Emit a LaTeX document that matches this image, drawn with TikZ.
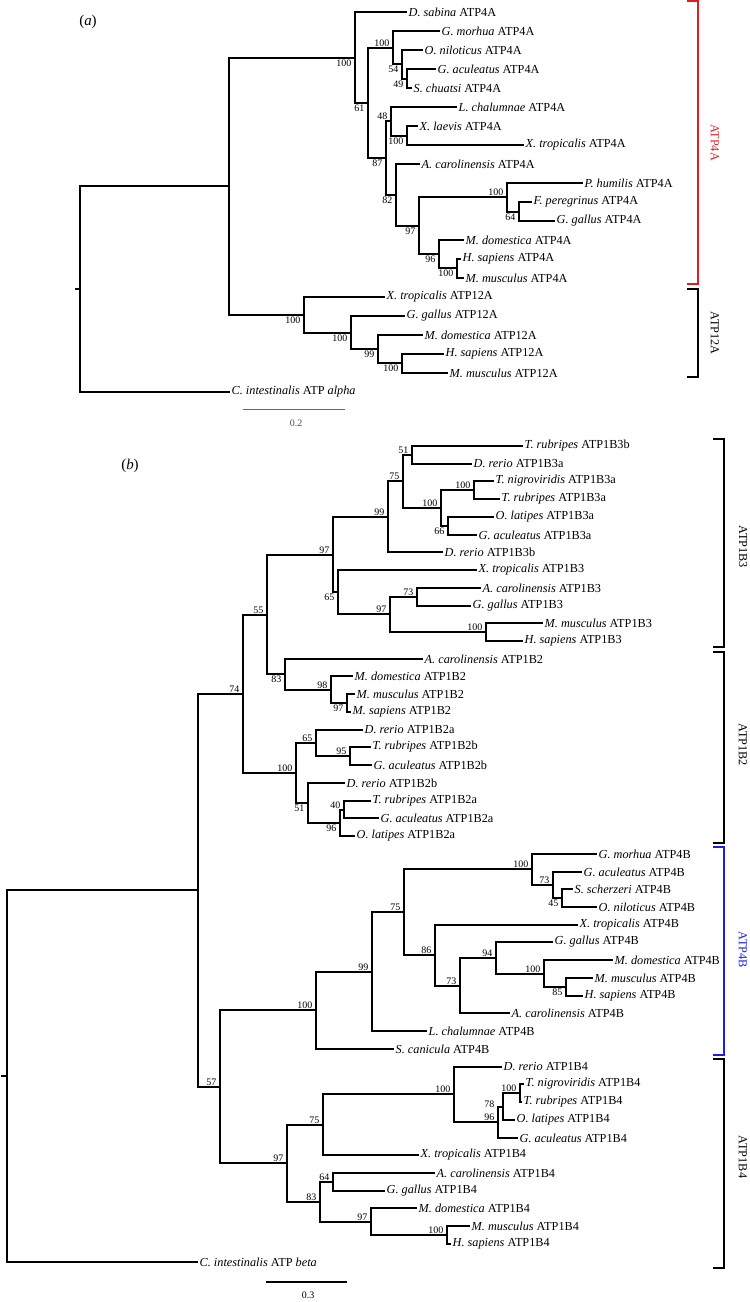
\documentclass[tikz,border=0pt]{standalone}
\usepackage{fontspec}
\setmainfont{Liberation Serif}
\definecolor{cladered}{RGB}{222,30,36}
\definecolor{cladeblue}{RGB}{30,30,225}
\newcommand{\leaffont}{\fontsize{12.3}{14}\selectfont}
\newcommand{\bsfont}{\fontsize{10}{11}\selectfont}

\begin{document}
\begin{tikzpicture}[
        x=1bp, y=-1bp,
        branch/.style={line width=2bp},
        leaf/.style={anchor=west, inner sep=1.5pt, font=\leaffont},
        bsup/.style={anchor=south east, inner sep=0.5pt, xshift=-3pt, yshift=1pt, font=\bsfont},
        bsdn/.style={anchor=north east, inner sep=0.5pt, xshift=-3pt, yshift=-1.5pt, font=\bsfont},
        bracket/.style={line width=2bp},
        cladelabel/.style={rotate=-90, font=\leaffont, inner sep=0pt},
        panel/.style={font=\fontsize{15}{17}\selectfont, inner sep=0pt}
    ]
        \useasboundingbox (0,0) rectangle (749,1302);

        % ---------------- (a) ----------------
        \node[panel] (lbla) at (88,22) {(\textit{a})};

        \node[leaf] (aDsab) at (407,12) {\textit{D. sabina} ATP4A};
        \node[leaf] (aGmor) at (440,31) {\textit{G. morhua} ATP4A};
        \node[leaf] (aOnil) at (423,50) {\textit{O. niloticus} ATP4A};
        \node[leaf] (aGacu) at (436,69) {\textit{G. aculeatus} ATP4A};
        \node[leaf] (aSchu) at (412,88) {\textit{S. chuatsi} ATP4A};
        \node[leaf] (aLcha) at (457,107) {\textit{L. chalumnae} ATP4A};
        \node[leaf] (aXlae) at (418,126) {\textit{X. laevis} ATP4A};
        \node[leaf] (aXtro) at (524,145) {\textit{X. tropicalis} ATP4A};
        \node[leaf] (aAcar) at (420,164) {\textit{A. carolinensis} ATP4A};
        \node[leaf] (aPhum) at (583,183) {\textit{P. humilis} ATP4A};
        \node[leaf] (aFper) at (532,202) {\textit{F. peregrinus} ATP4A};
        \node[leaf] (aGgal) at (555,221) {\textit{G. gallus} ATP4A};
        \node[leaf] (aMdom) at (464,240) {\textit{M. domestica} ATP4A};
        \node[leaf] (aHsap) at (461,259) {\textit{H. sapiens} ATP4A};
        \node[leaf] (aMmus) at (464,278) {\textit{M. musculus} ATP4A};
        \node[leaf] (aXtroB) at (385,297) {\textit{X. tropicalis} ATP12A};
        \node[leaf] (aGgalB) at (405,316) {\textit{G. gallus} ATP12A};
        \node[leaf] (aMdomB) at (423,335) {\textit{M. domestica} ATP12A};
        \node[leaf] (aHsapB) at (444,354) {\textit{H. sapiens} ATP12A};
        \node[leaf] (aMmusB) at (448,373) {\textit{M. musculus} ATP12A};
        \node[leaf] (aCint) at (230,392) {\textit{C. intestinalis} ATP \textit{alpha}};

        \coordinate (aStub) at (75,289);
        \coordinate (aRoot) at (80,289);
        \coordinate (aN1) at (229,186);
        \coordinate (aN100t) at (355,58);
        \coordinate (aN61) at (368,103);
        \coordinate (aN100a) at (393,48);
        \coordinate (aN54) at (402,64);
        \coordinate (aN49) at (407,79);
        \coordinate (aN87) at (386,158);
        \coordinate (aN48) at (391,121);
        \coordinate (aN100b) at (407,136);
        \coordinate (aN82) at (396,195);
        \coordinate (aN97) at (419,226);
        \coordinate (aN100c) at (507,197);
        \coordinate (aN64) at (519,212);
        \coordinate (aN96) at (439,254);
        \coordinate (aN100d) at (457,268);
        \coordinate (aN100e) at (304,315);
        \coordinate (aN100f) at (351,333);
        \coordinate (aN99) at (378,349);
        \coordinate (aN100g) at (402,363);

        \draw[branch] (aStub) -- (aRoot);
        \draw[branch] (aRoot) |- (aN1) (aRoot) |- (aCint.west);
        \draw[branch] (aN1) |- (aN100t) (aN1) |- (aN100e);
        \draw[branch] (aN100t) |- (aDsab.west) (aN100t) |- (aN61);
        \draw[branch] (aN61) |- (aN100a) (aN61) |- (aN87);
        \draw[branch] (aN100a) |- (aGmor.west) (aN100a) |- (aN54);
        \draw[branch] (aN54) |- (aOnil.west) (aN54) |- (aN49);
        \draw[branch] (aN49) |- (aGacu.west) (aN49) |- (aSchu.west);
        \draw[branch] (aN87) |- (aN48) (aN87) |- (aN82);
        \draw[branch] (aN48) |- (aLcha.west) (aN48) |- (aN100b);
        \draw[branch] (aN100b) |- (aXlae.west) (aN100b) |- (aXtro.west);
        \draw[branch] (aN82) |- (aAcar.west) (aN82) |- (aN97);
        \draw[branch] (aN97) |- (aN100c) (aN97) |- (aN96);
        \draw[branch] (aN100c) |- (aPhum.west) (aN100c) |- (aN64);
        \draw[branch] (aN64) |- (aFper.west) (aN64) |- (aGgal.west);
        \draw[branch] (aN96) |- (aMdom.west) (aN96) |- (aN100d);
        \draw[branch] (aN100d) |- (aHsap.west) (aN100d) |- (aMmus.west);
        \draw[branch] (aN100e) |- (aXtroB.west) (aN100e) |- (aN100f);
        \draw[branch] (aN100f) |- (aGgalB.west) (aN100f) |- (aN99);
        \draw[branch] (aN99) |- (aMdomB.west) (aN99) |- (aN100g);
        \draw[branch] (aN100g) |- (aHsapB.west) (aN100g) |- (aMmusB.west);

        \node[bsdn] (aV100t) at (aN100t) {100};
        \node[bsdn] (aV61) at (aN61) {61};
        \node[bsup] (aV100a) at (aN100a) {100};
        \node[bsdn] (aV54) at (aN54) {54};
        \node[bsdn] (aV49) at (aN49) {49};
        \node[bsdn] (aV87) at (aN87) {87};
        \node[bsup] (aV48) at (aN48) {48};
        \node[bsdn] (aV100b) at (aN100b) {100};
        \node[bsdn] (aV82) at (aN82) {82};
        \node[bsdn] (aV97) at (aN97) {97};
        \node[bsup] (aV100c) at (aN100c) {100};
        \node[bsdn] (aV64) at (aN64) {64};
        \node[bsdn] (aV96) at (aN96) {96};
        \node[bsdn] (aV100d) at (aN100d) {100};
        \node[bsdn] (aV100e) at (aN100e) {100};
        \node[bsdn] (aV100f) at (aN100f) {100};
        \node[bsdn] (aV99) at (aN99) {99};
        \node[bsdn] (aV100g) at (aN100g) {100};

        \draw[bracket, cladered] (687,1) -- (698,1) -- (698,284) -- (687,284);
        \node[cladelabel, cladered] (aLab4A) at (715,142.5) {ATP4A};
        \draw[bracket] (687,289) -- (698,289) -- (698,377) -- (687,377);
        \node[cladelabel] (aLab12A) at (715,333) {ATP12A};

        \coordinate (aBarL) at (243,409);
        \coordinate (aBarR) at (345,409);
        \draw[line width=1bp, black!60] (aBarL) -- (aBarR);
        \node[font=\bsfont, text=black!70] (aBarTxt) at (296,423) {0.2};

        % ---------------- (b) ----------------
        \node[panel] (lblb) at (130,466) {(\textit{b})};

        \node[leaf] (bTrub3b) at (523,446) {\textit{T. rubripes} ATP1B3b};
        \node[leaf] (bDrer3a) at (472,464) {\textit{D. rerio} ATP1B3a};
        \node[leaf] (bTnig3a) at (494,481) {\textit{T. nigroviridis} ATP1B3a};
        \node[leaf] (bTrub3a) at (500,499) {\textit{T. rubripes} ATP1B3a};
        \node[leaf] (bOlat3a) at (494,517) {\textit{O. latipes} ATP1B3a};
        \node[leaf] (bGacu3a) at (477,535) {\textit{G. aculeatus} ATP1B3a};
        \node[leaf] (bDrer3b) at (443,552) {\textit{D. rerio} ATP1B3b};
        \node[leaf] (bXtro3) at (477,570) {\textit{X. tropicalis} ATP1B3};
        \node[leaf] (bAcar3) at (481,588) {\textit{A. carolinensis} ATP1B3};
        \node[leaf] (bGgal3) at (471,606) {\textit{G. gallus} ATP1B3};
        \node[leaf] (bMmus3) at (543,623) {\textit{M. musculus} ATP1B3};
        \node[leaf] (bHsap3) at (523,641) {\textit{H. sapiens} ATP1B3};
        \node[leaf] (bAcar2) at (423,659) {\textit{A. carolinensis} ATP1B2};
        \node[leaf] (bMdom2) at (353,676) {\textit{M. domestica} ATP1B2};
        \node[leaf] (bMmus2) at (355,694) {\textit{M. musculus} ATP1B2};
        \node[leaf] (bMsap2) at (351,712) {\textit{M. sapiens} ATP1B2};
        \node[leaf] (bDrer2a) at (363,730) {\textit{D. rerio} ATP1B2a};
        \node[leaf] (bTrub2b) at (371,747) {\textit{T. rubripes} ATP1B2b};
        \node[leaf] (bGacu2b) at (372,765) {\textit{G. aculeatus} ATP1B2b};
        \node[leaf] (bDrer2b) at (345,783) {\textit{D. rerio} ATP1B2b};
        \node[leaf] (bTrub2a) at (371,801) {\textit{T. rubripes} ATP1B2a};
        \node[leaf] (bGacu2a) at (379,818) {\textit{G. aculeatus} ATP1B2a};
        \node[leaf] (bOlat2a) at (355,836) {\textit{O. latipes} ATP1B2a};
        \node[leaf] (bGmor4) at (597,854) {\textit{G. morhua} ATP4B};
        \node[leaf] (bGacu4) at (582,872) {\textit{G. aculeatus} ATP4B};
        \node[leaf] (bSsch4) at (573,889) {\textit{S. scherzeri} ATP4B};
        \node[leaf] (bOnil4) at (597,907) {\textit{O. niloticus} ATP4B};
        \node[leaf] (bXtro4) at (578,925) {\textit{X. tropicalis} ATP4B};
        \node[leaf] (bGgal4) at (553,942) {\textit{G. gallus} ATP4B};
        \node[leaf] (bMdom4) at (613,960) {\textit{M. domestica} ATP4B};
        \node[leaf] (bMmus4) at (593,978) {\textit{M. musculus} ATP4B};
        \node[leaf] (bHsap4) at (583,996) {\textit{H. sapiens} ATP4B};
        \node[leaf] (bAcar4) at (510,1013) {\textit{A. carolinensis} ATP4B};
        \node[leaf] (bLcha4) at (427,1031) {\textit{L. chalumnae} ATP4B};
        \node[leaf] (bScan4) at (394,1049) {\textit{S. canicula} ATP4B};
        \node[leaf] (bDrer1) at (502,1067) {\textit{D. rerio} ATP1B4};
        \node[leaf] (bTnig1) at (524,1084) {\textit{T. nigroviridis} ATP1B4};
        \node[leaf] (bTrub1) at (522,1102) {\textit{T. rubripes} ATP1B4};
        \node[leaf] (bOlat1) at (515,1120) {\textit{O. latipes} ATP1B4};
        \node[leaf] (bGacu1) at (518,1138) {\textit{G. aculeatus} ATP1B4};
        \node[leaf] (bXtro1) at (419,1155) {\textit{X. tropicalis} ATP1B4};
        \node[leaf] (bAcar1) at (435,1173) {\textit{A. carolinensis} ATP1B4};
        \node[leaf] (bGgal1) at (385,1191) {\textit{G. gallus} ATP1B4};
        \node[leaf] (bMdom1) at (417,1208) {\textit{M. domestica} ATP1B4};
        \node[leaf] (bMmus1) at (470,1226) {\textit{M. musculus} ATP1B4};
        \node[leaf] (bHsap1) at (451,1244) {\textit{H. sapiens} ATP1B4};
        \node[leaf] (bCint) at (198,1262) {\textit{C. intestinalis} ATP \textit{beta}};

        \coordinate (bStub) at (1,1076);
        \coordinate (bRoot) at (7,1076);
        \coordinate (bN1) at (198,890);
        \coordinate (bN74) at (243,694);
        \coordinate (bN55) at (267,615);
        \coordinate (bN97a) at (333,555);
        \coordinate (bN99a) at (388,517);
        \coordinate (bN75a) at (403,481);
        \coordinate (bN51a) at (412,455);
        \coordinate (bN100a) at (441,508);
        \coordinate (bN100b) at (474,490);
        \coordinate (bN66) at (448,526);
        \coordinate (bN65a) at (338,592);
        \coordinate (bN97b) at (390,614);
        \coordinate (bN73a) at (417,597);
        \coordinate (bN100c) at (486,632);
        \coordinate (bN83a) at (285,674);
        \coordinate (bN98) at (331,690);
        \coordinate (bN97c) at (347,703);
        \coordinate (bN100d) at (296,773);
        \coordinate (bN65b) at (316,743);
        \coordinate (bN95) at (350,756);
        \coordinate (bN51b) at (308,803);
        \coordinate (bN96a) at (340,823);
        \coordinate (bN40) at (344,810);
        \coordinate (bN57) at (220,1087);
        \coordinate (bN100e) at (316,1010);
        \coordinate (bN99b) at (372,972);
        \coordinate (bN75b) at (404,912);
        \coordinate (bN100f) at (532,869);
        \coordinate (bN73b) at (553,885);
        \coordinate (bN45) at (562,898);
        \coordinate (bN86) at (435,955);
        \coordinate (bN73c) at (460,986);
        \coordinate (bN94) at (496,958);
        \coordinate (bN100g) at (544,974);
        \coordinate (bN85) at (566,987);
        \coordinate (bN97d) at (287,1163);
        \coordinate (bN75c) at (323,1125);
        \coordinate (bN100h) at (454,1094);
        \coordinate (bN96b) at (498,1122);
        \coordinate (bN78) at (503,1107);
        \coordinate (bN100i) at (520,1093);
        \coordinate (bN83b) at (320,1202);
        \coordinate (bN64) at (333,1182);
        \coordinate (bN97e) at (371,1222);
        \coordinate (bN100j) at (447,1235);

        \draw[branch] (bStub) -- (bRoot);
        \draw[branch] (bRoot) |- (bN1) (bRoot) |- (bCint.west);
        \draw[branch] (bN1) |- (bN74) (bN1) |- (bN57);
        \draw[branch] (bN74) |- (bN55) (bN74) |- (bN100d);
        \draw[branch] (bN55) |- (bN97a) (bN55) |- (bN83a);
        \draw[branch] (bN97a) |- (bN99a) (bN97a) |- (bN65a);
        \draw[branch] (bN99a) |- (bN75a) (bN99a) |- (bDrer3b.west);
        \draw[branch] (bN75a) |- (bN51a) (bN75a) |- (bN100a);
        \draw[branch] (bN51a) |- (bTrub3b.west) (bN51a) |- (bDrer3a.west);
        \draw[branch] (bN100a) |- (bN100b) (bN100a) |- (bN66);
        \draw[branch] (bN100b) |- (bTnig3a.west) (bN100b) |- (bTrub3a.west);
        \draw[branch] (bN66) |- (bOlat3a.west) (bN66) |- (bGacu3a.west);
        \draw[branch] (bN65a) |- (bXtro3.west) (bN65a) |- (bN97b);
        \draw[branch] (bN97b) |- (bN73a) (bN97b) |- (bN100c);
        \draw[branch] (bN73a) |- (bAcar3.west) (bN73a) |- (bGgal3.west);
        \draw[branch] (bN100c) |- (bMmus3.west) (bN100c) |- (bHsap3.west);
        \draw[branch] (bN83a) |- (bAcar2.west) (bN83a) |- (bN98);
        \draw[branch] (bN98) |- (bMdom2.west) (bN98) |- (bN97c);
        \draw[branch] (bN97c) |- (bMmus2.west) (bN97c) |- (bMsap2.west);
        \draw[branch] (bN100d) |- (bN65b) (bN100d) |- (bN51b);
        \draw[branch] (bN65b) |- (bDrer2a.west) (bN65b) |- (bN95);
        \draw[branch] (bN95) |- (bTrub2b.west) (bN95) |- (bGacu2b.west);
        \draw[branch] (bN51b) |- (bDrer2b.west) (bN51b) |- (bN96a);
        \draw[branch] (bN96a) |- (bN40) (bN96a) |- (bOlat2a.west);
        \draw[branch] (bN40) |- (bTrub2a.west) (bN40) |- (bGacu2a.west);
        \draw[branch] (bN57) |- (bN100e) (bN57) |- (bN97d);
        \draw[branch] (bN100e) |- (bN99b) (bN100e) |- (bScan4.west);
        \draw[branch] (bN99b) |- (bN75b) (bN99b) |- (bLcha4.west);
        \draw[branch] (bN75b) |- (bN100f) (bN75b) |- (bN86);
        \draw[branch] (bN100f) |- (bGmor4.west) (bN100f) |- (bN73b);
        \draw[branch] (bN73b) |- (bGacu4.west) (bN73b) |- (bN45);
        \draw[branch] (bN45) |- (bSsch4.west) (bN45) |- (bOnil4.west);
        \draw[branch] (bN86) |- (bXtro4.west) (bN86) |- (bN73c);
        \draw[branch] (bN73c) |- (bN94) (bN73c) |- (bAcar4.west);
        \draw[branch] (bN94) |- (bGgal4.west) (bN94) |- (bN100g);
        \draw[branch] (bN100g) |- (bMdom4.west) (bN100g) |- (bN85);
        \draw[branch] (bN85) |- (bMmus4.west) (bN85) |- (bHsap4.west);
        \draw[branch] (bN97d) |- (bN75c) (bN97d) |- (bN83b);
        \draw[branch] (bN75c) |- (bN100h) (bN75c) |- (bXtro1.west);
        \draw[branch] (bN100h) |- (bDrer1.west) (bN100h) |- (bN96b);
        \draw[branch] (bN96b) |- (bN78) (bN96b) |- (bGacu1.west);
        \draw[branch] (bN78) |- (bN100i) (bN78) |- (bOlat1.west);
        \draw[branch] (bN100i) |- (bTnig1.west) (bN100i) |- (bTrub1.west);
        \draw[branch] (bN83b) |- (bN64) (bN83b) |- (bN97e);
        \draw[branch] (bN64) |- (bAcar1.west) (bN64) |- (bGgal1.west);
        \draw[branch] (bN97e) |- (bMdom1.west) (bN97e) |- (bN100j);
        \draw[branch] (bN100j) |- (bMmus1.west) (bN100j) |- (bHsap1.west);

        \node[bsup] (bV74) at (bN74) {74};
        \node[bsup] (bV55) at (bN55) {55};
        \node[bsup] (bV97a) at (bN97a) {97};
        \node[bsup] (bV99a) at (bN99a) {99};
        \node[bsup] (bV75a) at (bN75a) {75};
        \node[bsup] (bV51a) at (bN51a) {51};
        \node[bsup] (bV100a) at (bN100a) {100};
        \node[bsup] (bV100b) at (bN100b) {100};
        \node[bsdn] (bV66) at (bN66) {66};
        \node[bsdn] (bV65a) at (bN65a) {65};
        \node[bsup] (bV97b) at (bN97b) {97};
        \node[bsup] (bV73a) at (bN73a) {73};
        \node[bsup] (bV100c) at (bN100c) {100};
        \node[bsdn] (bV83a) at (bN83a) {83};
        \node[bsup] (bV98) at (bN98) {98};
        \node[bsdn] (bV97c) at (bN97c) {97};
        \node[bsup] (bV100d) at (bN100d) {100};
        \node[bsup] (bV65b) at (bN65b) {65};
        \node[bsup] (bV95) at (bN95) {95};
        \node[bsdn] (bV51b) at (bN51b) {51};
        \node[bsdn] (bV96a) at (bN96a) {96};
        \node[bsup] (bV40) at (bN40) {40};
        \node[bsup] (bV57) at (bN57) {57};
        \node[bsup] (bV100e) at (bN100e) {100};
        \node[bsup] (bV99b) at (bN99b) {99};
        \node[bsup] (bV75b) at (bN75b) {75};
        \node[bsup] (bV100f) at (bN100f) {100};
        \node[bsup] (bV73b) at (bN73b) {73};
        \node[bsdn] (bV45) at (bN45) {45};
        \node[bsup] (bV86) at (bN86) {86};
        \node[bsup] (bV73c) at (bN73c) {73};
        \node[bsup] (bV94) at (bN94) {94};
        \node[bsup] (bV100g) at (bN100g) {100};
        \node[bsdn] (bV85) at (bN85) {85};
        \node[bsup] (bV97d) at (bN97d) {97};
        \node[bsup] (bV75c) at (bN75c) {75};
        \node[bsup] (bV100h) at (bN100h) {100};
        \node[bsup] (bV96b) at (bN96b) {96};
        \node[bsup, xshift=-5pt, yshift=-2pt] (bV78) at (bN78) {78};
        \node[bsup] (bV100i) at (bN100i) {100};
        \node[bsup] (bV83b) at (bN83b) {83};
        \node[bsup] (bV64) at (bN64) {64};
        \node[bsup] (bV97e) at (bN97e) {97};
        \node[bsup] (bV100j) at (bN100j) {100};

        \draw[bracket] (713,439) -- (724,439) -- (724,647) -- (713,647);
        \node[cladelabel] (bLab1B3) at (743,547) {ATP1B3};
        \draw[bracket] (713,652) -- (724,652) -- (724,843) -- (713,843);
        \node[cladelabel] (bLab1B2) at (743,745) {ATP1B2};
        \draw[bracket, cladeblue] (713,847) -- (724,847) -- (724,1055) -- (713,1055);
        \node[cladelabel, cladeblue] (bLab4B) at (743,950) {ATP4B};
        \draw[bracket] (713,1059) -- (724,1059) -- (724,1268) -- (713,1268);
        \node[cladelabel] (bLab1B4) at (743,1157) {ATP1B4};

        \coordinate (bBarL) at (266,1282);
        \coordinate (bBarR) at (347,1282);
        \draw[line width=1.2bp] (bBarL) -- (bBarR);
        \node[font=\bsfont] (bBarTxt) at (308,1295) {0.3};
    \end{tikzpicture}
\end{document}
